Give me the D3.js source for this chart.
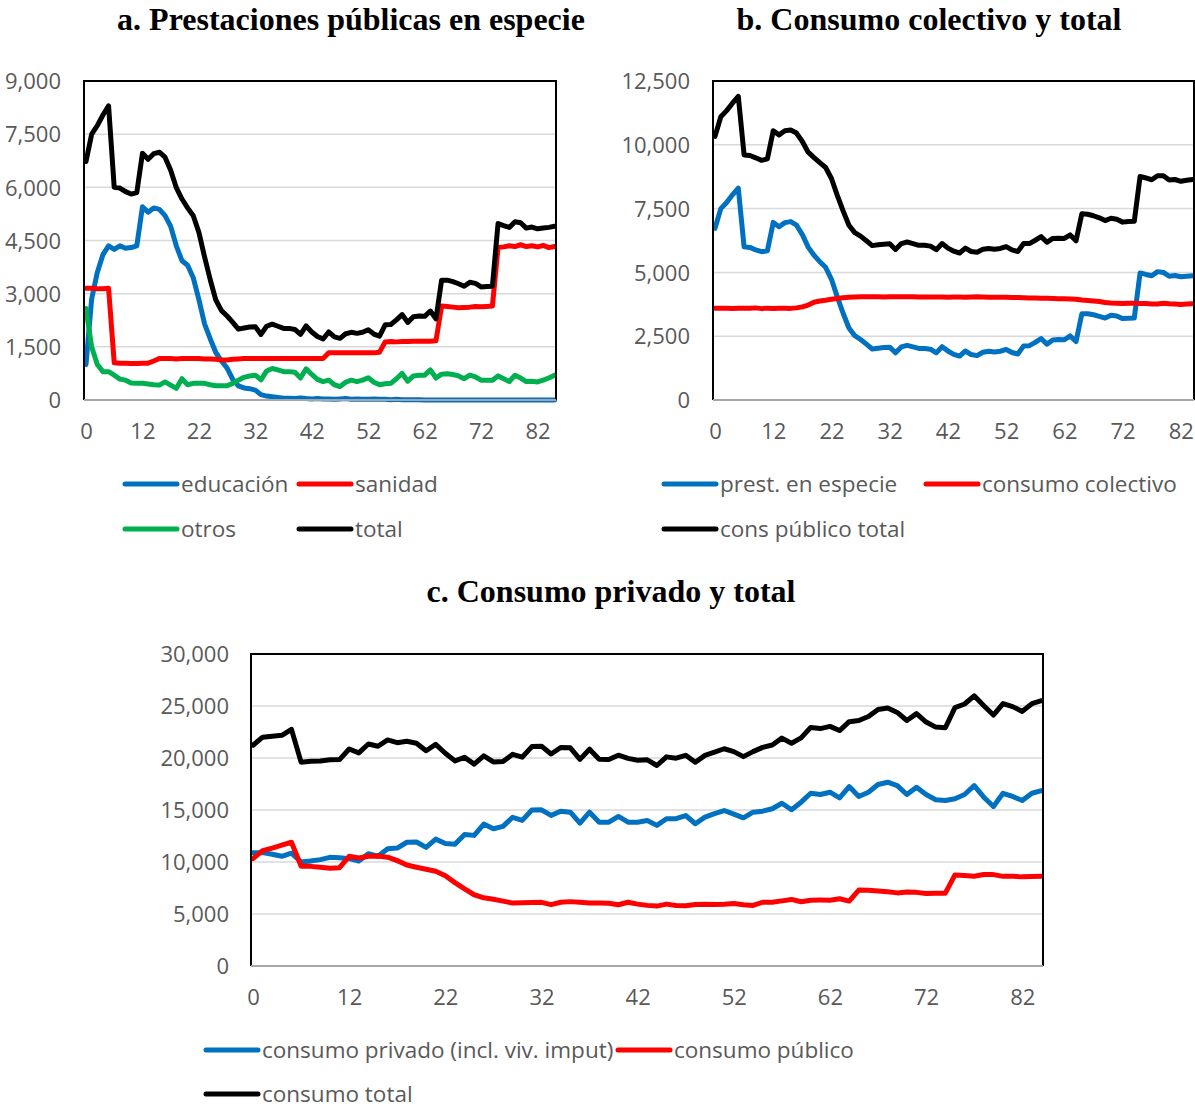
<!DOCTYPE html>
<html><head><meta charset="utf-8">
<script src="https://cdn.jsdelivr.net/npm/d3@7"></script>
<style>body{margin:0;background:#fff} svg{display:block}</style>
</head><body>
<svg id="chart" width="1195" height="1108"></svg>
<script>
// ---------- data ----------
const tickLabels = ["0","12","22","32","42","52","62","72","82"];
const tickIndex  = [0,10,20,30,40,50,60,70,80];

// panel a (84 categories)
const educacion = [1000,2850,3600,4100,4350,4250,4350,4280,4300,4350,5450,5300,5420,5380,5200,4900,4350,3930,3800,3450,2830,2150,1730,1340,1100,900,580,400,340,320,280,150,110,90,70,50,50,40,60,40,30,40,30,30,20,30,40,20,30,20,20,30,20,20,10,20,10,10,10,10,0,0,0,0,0,0,0,0,0,0,0,0,0,0,0,0,0,0,0,0,0,0,0,0];
const sanidad = [3150,3150,3140,3140,3150,1050,1040,1040,1030,1030,1040,1040,1100,1170,1170,1170,1160,1170,1170,1170,1170,1160,1160,1150,1130,1130,1150,1160,1170,1170,1170,1170,1170,1170,1170,1170,1170,1170,1170,1170,1170,1170,1170,1330,1330,1330,1330,1330,1330,1330,1330,1330,1350,1640,1650,1640,1650,1650,1660,1660,1660,1660,1670,2650,2640,2620,2600,2610,2620,2640,2630,2640,2650,4300,4320,4350,4330,4380,4330,4350,4320,4360,4300,4330];
const otros = [2580,1500,1000,800,800,700,590,560,480,470,470,450,430,420,510,420,330,600,430,470,470,470,430,400,400,400,470,560,640,680,700,570,820,890,850,800,800,780,620,880,720,580,520,560,430,380,500,560,520,560,630,500,430,460,470,600,750,530,680,700,700,850,620,730,740,720,680,600,700,650,560,560,560,680,600,520,700,620,520,530,510,560,620,700];
const totalEspecie = [6730,7500,7740,8040,8300,6000,5980,5880,5810,5850,6960,6790,6950,6990,6850,6480,5990,5670,5420,5200,4730,4040,3400,2820,2520,2370,2190,2000,2030,2060,2070,1850,2080,2140,2080,2020,2020,1990,1850,2090,1920,1790,1720,1920,1780,1740,1870,1910,1880,1910,1980,1860,1800,2120,2130,2260,2410,2190,2350,2370,2360,2510,2290,3380,3380,3340,3280,3210,3320,3290,3190,3200,3210,4980,4920,4870,5030,5000,4850,4880,4830,4850,4870,4900];

// panel b (83 categories)
const prestEspecie = [6730,7500,7740,8040,8300,6000,5980,5880,5810,5850,6960,6790,6950,6990,6850,6480,5990,5670,5420,5200,4730,4040,3400,2820,2520,2370,2190,2000,2030,2060,2070,1850,2080,2140,2080,2020,2020,1990,1850,2090,1920,1790,1720,1920,1780,1740,1870,1910,1880,1910,1980,1860,1800,2120,2130,2260,2410,2190,2350,2370,2360,2510,2290,3380,3380,3340,3280,3210,3320,3290,3190,3200,3210,4980,4920,4870,5030,5000,4850,4880,4830,4850,4870];
const consumoColectivo = [3600,3600,3600,3590,3600,3600,3600,3610,3580,3600,3590,3600,3600,3590,3610,3650,3720,3830,3880,3910,3950,3980,4010,4030,4040,4050,4050,4050,4050,4040,4050,4050,4050,4050,4050,4040,4040,4040,4040,4040,4030,4040,4040,4030,4040,4050,4040,4030,4030,4030,4030,4020,4020,4010,4000,4000,3990,3990,3980,3970,3970,3960,3950,3920,3900,3880,3860,3820,3800,3790,3780,3790,3790,3780,3780,3760,3760,3790,3770,3760,3740,3760,3770];
const consPublicoTotal = [10330,11100,11340,11630,11900,9600,9580,9490,9390,9450,10550,10390,10550,10580,10460,10130,9710,9500,9300,9110,8680,8020,7410,6850,6560,6420,6240,6050,6080,6100,6120,5900,6130,6190,6130,6060,6060,6030,5890,6130,5950,5830,5760,5950,5820,5790,5910,5940,5910,5940,6010,5880,5820,6130,6130,6260,6400,6180,6330,6340,6330,6470,6240,7300,7280,7220,7140,7030,7120,7080,6970,6990,7000,8760,8700,8630,8790,8790,8620,8640,8570,8610,8640];

// panel c (83 categories)
const consumoPrivado = [10900,10900,10750,10550,10850,10000,10100,10230,10450,10400,10320,10100,10800,10550,11280,11340,11900,11920,11400,12200,11780,11700,12650,12560,13650,13200,13420,14300,14000,15000,15020,14480,14880,14790,13740,14790,13830,13830,14380,13830,13830,13990,13520,14160,14160,14470,13680,14310,14650,14950,14600,14250,14790,14890,15120,15650,15020,15750,16610,16490,16710,16170,17250,16300,16710,17450,17670,17350,16490,17190,16490,15980,15910,16080,16490,17350,16230,15340,16610,16300,15910,16610,16870];
const consumoPublico = consPublicoTotal;
const consumoTotal = [21230,22000,22090,22180,22750,19600,19680,19720,19840,19850,20870,20490,21350,21130,21740,21470,21610,21420,20700,21310,20460,19720,20060,19410,20210,19620,19660,20350,20080,21100,21140,20380,21010,20980,19870,20850,19890,19860,20270,19960,19780,19820,19280,20110,19980,20260,19590,20250,20560,20890,20610,20130,20610,21020,21250,21910,21420,21930,22940,22830,23040,22640,23490,23600,23990,24670,24810,24380,23610,24270,23460,22970,22910,24840,25190,25980,25020,24130,25230,24940,24480,25220,25510];

const yTicksA = [0,1500,3000,4500,6000,7500,9000];
const yTicksB = [0,2500,5000,7500,10000,12500];
const yTicksC = [0,5000,10000,15000,20000,25000,30000];

// ---------- drawing ----------
const BLUE = "#0070c0", RED = "#ff0000", GREEN = "#00b050", BLACK = "#000000";
const svg = d3.select("#chart");
svg.append("rect").attr("width",1195).attr("height",1108).attr("fill","#fff");
const fmt = d3.format(",");
const SANS = "'Open Sans', 'Noto Sans', sans-serif";

function panel(cfg) {
  const g = svg.append("g");
  const n = cfg.series[0].values.length;
  const x = d3.scaleLinear().domain([0, n - 1]).range([cfg.x0 + 2, cfg.x1 - 1.5]);
  const y = d3.scaleLinear().domain([0, d3.max(cfg.yTicks)]).range([cfg.y1, cfg.y0]);

  // gridlines
  g.append("g").selectAll("line").data(cfg.yTicks.slice(1)).join("line")
    .attr("x1", cfg.x0).attr("x2", cfg.x1)
    .attr("y1", d => y(d)).attr("y2", d => y(d))
    .attr("stroke", "#d9d9d9").attr("stroke-width", 1.5);

  // y axis labels
  const ya = g.append("g").attr("transform", `translate(${cfg.yLabelX},0)`)
    .call(d3.axisLeft(y).tickValues(cfg.yTicks).tickFormat(fmt).tickSize(0).tickPadding(0));
  ya.select(".domain").remove();
  ya.selectAll("text").attr("font-family", SANS).attr("font-size", cfg.fs)
    .attr("fill", "#595959").attr("dy", "0.35em");

  // x axis labels
  const xa = g.append("g").attr("transform", `translate(0,${cfg.xLabelY})`)
    .call(d3.axisBottom(x).tickValues(tickIndex).tickFormat((d, i) => tickLabels[i]).tickSize(0).tickPadding(0));
  xa.select(".domain").remove();
  xa.selectAll("text").attr("font-family", SANS).attr("font-size", cfg.fs)
    .attr("fill", "#595959").attr("dy", "0.35em");

  // lines
  const line = d3.line().x((d, i) => x(i)).y(d => y(d));
  cfg.series.forEach(s => {
    g.append("path").datum(s.values).attr("d", line)
      .attr("fill", "none").attr("stroke", s.color).attr("stroke-width", cfg.lw)
      .attr("stroke-linejoin", "round").attr("stroke-linecap", "round");
  });

  // frame
  g.append("path").attr("d", `M${cfg.x0},${cfg.y1}V${cfg.y0}H${cfg.x1}V${cfg.y1}`)
    .attr("fill", "none").attr("stroke", "#000").attr("stroke-width", 2);
  g.append("line").attr("x1", cfg.x0).attr("x2", cfg.x1).attr("y1", cfg.y1).attr("y2", cfg.y1)
    .attr("stroke", "#a6a6a6").attr("stroke-width", 2);

  // title
  g.append("text").attr("x", cfg.titleX).attr("y", cfg.titleY).attr("text-anchor", "middle")
    .attr("font-family", "'Liberation Serif', 'Times New Roman', serif").attr("font-weight", "bold")
    .attr("font-size", 32).attr("fill", "#000").text(cfg.title);

  // legend
  cfg.series.forEach(s => {
    const lg = g.append("g");
    lg.append("line").attr("x1", s.lx).attr("x2", s.lx + 52).attr("y1", s.ly).attr("y2", s.ly)
      .attr("stroke", s.color).attr("stroke-width", 5).attr("stroke-linecap", "round");
    lg.append("text").attr("x", s.lx + 56).attr("y", s.ly).attr("dy", "0.35em")
      .attr("font-family", SANS).attr("font-size", cfg.lfs).attr("fill", "#595959").text(s.name);
  });
}

panel({
  x0: 84, x1: 556, y0: 81, y1: 400, yTicks: yTicksA, yLabelX: 61, xLabelY: 431, fs: 22, lfs: 22.5, lw: 5,
  title: "a. Prestaciones públicas en especie", titleX: 351, titleY: 30,
  series: [
    {name: "educación", values: educacion, color: BLUE, lx: 125, ly: 484},
    {name: "sanidad", values: sanidad, color: RED, lx: 299, ly: 484},
    {name: "otros", values: otros, color: GREEN, lx: 125, ly: 529},
    {name: "total", values: totalEspecie, color: BLACK, lx: 299, ly: 529}
  ]
});

panel({
  x0: 713, x1: 1194, y0: 81, y1: 400, yTicks: yTicksB, yLabelX: 690, xLabelY: 431, fs: 22, lfs: 22.5, lw: 5,
  title: "b. Consumo colectivo y total", titleX: 929, titleY: 30,
  series: [
    {name: "prest. en especie", values: prestEspecie, color: BLUE, lx: 664, ly: 484},
    {name: "consumo colectivo", values: consumoColectivo, color: RED, lx: 926, ly: 484},
    {name: "cons público total", values: consPublicoTotal, color: BLACK, lx: 664, ly: 529}
  ]
});

panel({
  x0: 251, x1: 1043, y0: 654, y1: 966, yTicks: yTicksC, yLabelX: 229, xLabelY: 997, fs: 22, lfs: 22.5, lw: 5,
  title: "c. Consumo privado y total", titleX: 611, titleY: 602,
  series: [
    {name: "consumo privado (incl. viv. imput)", values: consumoPrivado, color: BLUE, lx: 206, ly: 1050},
    {name: "consumo público", values: consumoPublico, color: RED, lx: 618, ly: 1050},
    {name: "consumo total", values: consumoTotal, color: BLACK, lx: 206, ly: 1094}
  ]
});
</script>
</body></html>
